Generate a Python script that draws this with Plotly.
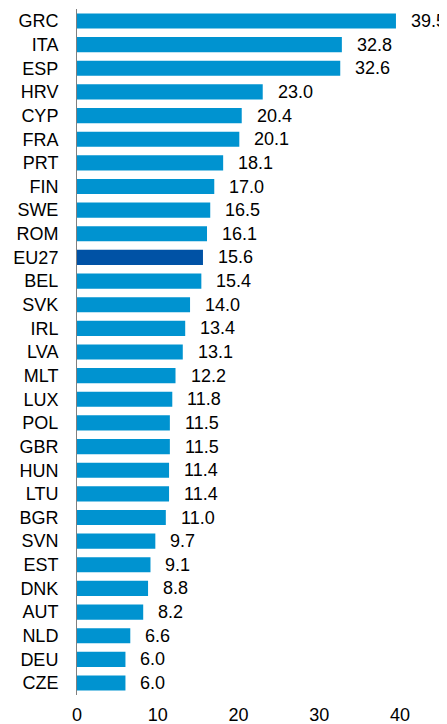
import plotly.graph_objects as go

countries = ["GRC","ITA","ESP","HRV","CYP","FRA","PRT","FIN","SWE","ROM","EU27","BEL","SVK","IRL","LVA",
             "MLT","LUX","POL","GBR","HUN","LTU","BGR","SVN","EST","DNK","AUT","NLD","DEU","CZE"]
values = [39.5,32.8,32.6,23.0,20.4,20.1,18.1,17.0,16.5,16.1,15.6,15.4,14.0,13.4,13.1,
          12.2,11.8,11.5,11.5,11.4,11.4,11.0,9.7,9.1,8.8,8.2,6.6,6.0,6.0]
x_ticks = [0, 10, 20, 30, 40]

LIGHT = "#0093d0"
DARK = "#0052a5"
colors = [DARK if c == "EU27" else LIGHT for c in countries]

FS = 18

fig = go.Figure()
fig.add_trace(go.Bar(
    x=values, y=countries, orientation="h",
    marker=dict(color=colors, line=dict(width=0)),
    hoverinfo="skip",
))
for c, v in zip(countries, values):
    fig.add_annotation(x=v, y=c, text=f"{v:.1f}", showarrow=False,
                       xanchor="left", yanchor="middle", xshift=13,
                       font=dict(size=FS, color="#000000"))

# page body has an 8px default margin, so the figure is sized to fit the window
fig.update_layout(
    width=439, height=716,
    margin=dict(l=69, r=47, t=1, b=29, autoexpand=False),
    plot_bgcolor="white", paper_bgcolor="white",
    bargap=0.36,
    showlegend=False,
    font=dict(family="Liberation Sans, Arial, sans-serif", size=FS, color="#000000"),
)
fig.update_xaxes(range=[0, 40], tickvals=x_ticks, showgrid=False, zeroline=False,
                 showline=False, ticks="outside", ticklen=3, tickcolor="rgba(0,0,0,0)",
                 tickfont=dict(size=FS), automargin=False)
fig.update_yaxes(autorange="reversed", showgrid=False, zeroline=False,
                 showline=True, linecolor="#808080", linewidth=1, ticks="",
                 ticklabelstandoff=14, tickfont=dict(size=FS), automargin=False)

fig.write_html("out.html")
